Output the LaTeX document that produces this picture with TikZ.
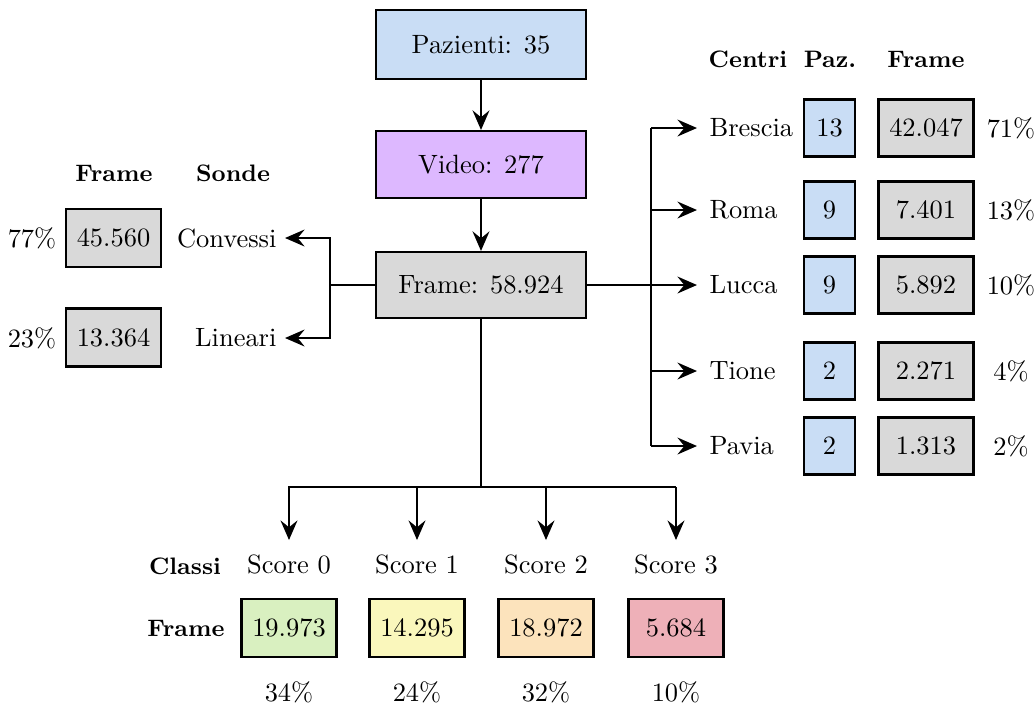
\documentclass[tikz,border=0pt]{standalone}
\usetikzlibrary{arrows.meta}
\definecolor{cblue}{RGB}{201,221,245}
\definecolor{cpurple}{RGB}{221,184,255}
\definecolor{cgray}{RGB}{217,217,217}
\definecolor{cgreen}{RGB}{217,240,192}
\definecolor{cyellow}{RGB}{250,247,188}
\definecolor{corange}{RGB}{252,227,188}
\definecolor{cred}{RGB}{238,176,184}
\def\pxu{0.378pt}
\tikzset{
  box/.style={draw, line width=0.8pt, rectangle, inner sep=0pt},
  bigbox/.style={box, minimum width=210*\pxu},
  numbox/.style={box, minimum width=95*\pxu, minimum height=58*\pxu},
  pazbox/.style={box, fill=cblue, minimum width=51*\pxu, minimum height=57*\pxu},
  conn/.style={line width=0.8pt},
  arr/.style={conn, -{Stealth[length=7.4pt, width=6.4pt, inset=2.6pt]}},
  hdr/.style={font=\small\bfseries, inner sep=0pt},
  lbl/.style={inner sep=0pt}
}
\begin{document}
\begin{tikzpicture}[x=0.378pt, y=-0.378pt]
\useasboundingbox (0,0) rectangle (1036,706);
% main column
\node[bigbox, fill=cblue, minimum height=69*\pxu] (paz) at (481,44.5) {Pazienti: 35};
\node[bigbox, fill=cpurple, minimum height=67*\pxu] (vid) at (481,164.5) {Video: 277};
\node[bigbox, fill=cgray, minimum height=66*\pxu] (frm) at (481,285) {Frame: 58.924};
\draw[arr] (paz) -- (vid);
\draw[arr] (vid) -- (frm);

% right branch: centres
\node[hdr] (hcen) at (748,59) {Centri};
\node[hdr] (hpaz) at (830,59) {Paz.};
\node[hdr] (hfr) at (926,59) {Frame};
\coordinate (rs) at (651,285);
\foreach \n/\name/\p/\f/\pc/\y in {bre/Brescia/13/42.047/71\%/128, rom/Roma/9/7.401/13\%/210, luc/Lucca/9/5.892/10\%/285, tio/Tione/2/2.271/4\%/371, pav/Pavia/2/1.313/2\%/446}{
  \node[anchor=west, inner xsep=12*\pxu, inner ysep=0pt] (\n) at (697,\y) {\name};
  \node[pazbox] (\n p) at (829.5,\y) {\p};
  \node[numbox, fill=cgray, minimum height=57*\pxu] (\n f) at (926,\y) {\f};
  \node[lbl] (\n pc) at (1011,\y) {\pc};
}
\draw[conn] (frm.east) -- (rs);
\coordinate (rtop) at (651,128);
\coordinate (rbot) at (651,446);
\draw[conn] (rtop) -- (rbot);
\draw[arr] (rtop) -- (bre.west);
\draw[arr] (rs |- rom) -- (rom.west);
\draw[arr] (rs) -- (luc.west);
\draw[arr] (rs |- tio) -- (tio.west);
\draw[arr] (rbot) -- (pav.west);

% left branch: probes
\node[hdr] (hlf) at (114,173) {Frame};
\node[hdr] (hson) at (233,173) {Sonde};
\coordinate (ls) at (330,285);
\node[anchor=east, inner xsep=8*\pxu, inner ysep=0pt] (con) at (285,238) {Convessi};
\node[anchor=east, inner xsep=8*\pxu, inner ysep=0pt] (lin) at (285,338) {Lineari};
\node[numbox, fill=cgray] (conf) at (113.5,238) {45.560};
\node[numbox, fill=cgray] (linf) at (113.5,337.5) {13.364};
\node[lbl] (conpc) at (32,238) {77\%};
\node[lbl] (linpc) at (32,338) {23\%};
\draw[conn] (frm.west) -- (ls);
\draw[arr] (ls) |- (con.east);
\draw[arr] (ls) |- (lin.east);

% bottom branch: classes
\coordinate (bs) at (481,487);
\coordinate (b0) at (288,487);
\coordinate (b3) at (676,487);
\draw[conn] (frm.south) -- (bs);
\draw[conn] (b0) -- (b3);
\node[hdr] (hcl) at (185,566) {Classi};
\node[hdr] (hbf) at (186,628) {Frame};
\foreach \i/\x/\v/\c/\pc in {0/289/19.973/cgreen/34\%, 1/417/14.295/cyellow/24\%, 2/546/18.972/corange/32\%, 3/676/5.684/cred/10\%}{
  \node[lbl, anchor=base] (s\i) at (\x,573) {Score \i};
  \node[numbox, fill=\c] (v\i) at (\x,628) {\v};
  \node[lbl] (p\i) at (\x,692) {\pc};
  \coordinate (t\i) at (\x,487);
  \coordinate (e\i) at (\x,540);
  \draw[arr] (t\i) -- (e\i);
}
\end{tikzpicture}
\end{document}
